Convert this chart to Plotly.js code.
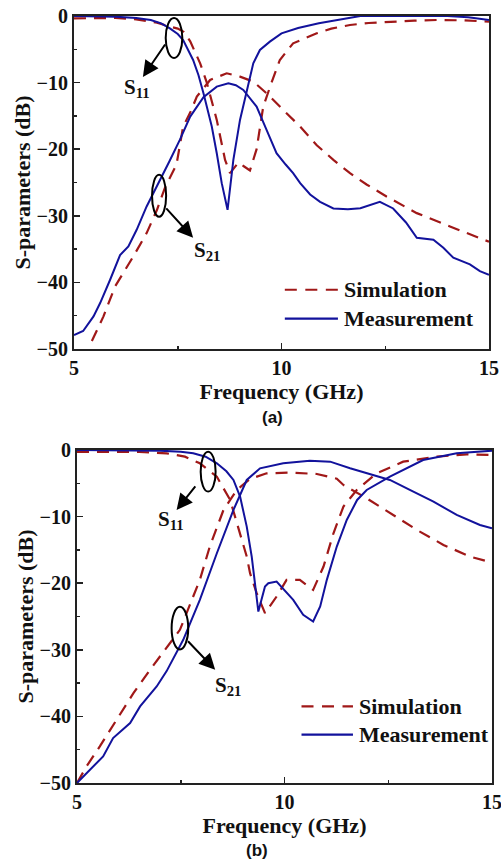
<!DOCTYPE html>
<html>
<head>
<meta charset="utf-8">
<script src="https://cdn.plot.ly/plotly-3.0.1.min.js"></script>
<style>
  html, body { margin: 0; padding: 0; background: #ffffff; }
  #chart { width: 501px; height: 862px; }
</style>
</head>
<body>
<div id="chart"></div>
<script>
// ---- Panel (a): S-parameters, frequency in GHz, magnitude in dB ----
const aS11SimF  = [5, 5.5, 6, 6.5, 7.0, 7.25, 7.5, 7.65, 7.8, 8.04, 8.2, 8.44, 8.64, 8.76, 8.96, 9.1, 9.24, 9.4, 9.56, 9.76, 9.96, 10.28, 10.6, 10.85, 11.2, 11.65, 12.1, 12.6, 13.2, 13.74, 14.4, 15];
const aS11SimDb = [-0.35, -0.3, -0.3, -0.5, -1.0, -1.5, -1.9, -2.4, -3.8, -7.1, -10.0, -15.6, -21.6, -23.6, -22.0, -22.6, -23.2, -20.0, -13.6, -10.0, -6.6, -4.1, -3.2, -2.6, -1.9, -1.35, -1.05, -0.85, -0.7, -0.6, -0.65, -0.85];

const aS11MeasF  = [5, 5.5, 6, 6.5, 6.85, 7.1, 7.31, 7.5, 7.63, 7.87, 8.0, 8.12, 8.25, 8.32, 8.44, 8.56, 8.7, 8.84, 9.0, 9.16, 9.32, 9.48, 9.72, 10.0, 10.4, 10.9, 11.4, 11.9, 12.5, 13.0, 13.5, 14.0, 14.5, 15];
const aS11MeasDb = [0, 0, -0.1, -0.3, -0.6, -1.1, -1.85, -2.7, -3.6, -6.6, -8.9, -11.6, -14.8, -16.6, -20.6, -25.1, -29.1, -21.6, -15.6, -11.1, -7.1, -5.1, -3.85, -2.6, -1.8, -1.1, -0.5, 0, 0, 0, 0, 0, -0.2, -0.6];

const aS21SimF  = [5.43, 5.71, 5.99, 6.2, 6.43, 6.75, 7.0, 7.19, 7.47, 7.63, 7.8, 7.96, 8.28, 8.68, 9.0, 9.32, 9.64, 10.04, 10.45, 10.85, 11.25, 11.65, 12.05, 12.53, 13.02, 13.26, 14.06, 15];
const aS21SimDb = [-48.8, -45.1, -40.6, -38.5, -36.1, -32.6, -29.1, -25.8, -22.3, -16.6, -14.5, -12.1, -9.6, -8.6, -9.1, -9.85, -11.6, -14.1, -16.6, -19.4, -21.6, -23.6, -25.3, -27.1, -28.85, -29.6, -31.6, -33.9];

const aS21MeasF  = [5, 5.22, 5.47, 5.63, 5.87, 6.11, 6.31, 6.51, 6.75, 7.0, 7.3, 7.55, 7.8, 8.12, 8.44, 8.72, 8.9, 9.08, 9.4, 9.64, 9.88, 10.1, 10.28, 10.45, 10.69, 10.93, 11.25, 11.6, 11.9, 12.37, 12.69, 13.0, 13.26, 13.66, 13.9, 14.14, 14.54, 14.78, 15];
const aS21MeasDb = [-47.9, -47.3, -45.1, -43.1, -39.6, -35.9, -34.6, -32.1, -28.6, -25.6, -21.8, -18.6, -15.1, -12.2, -10.6, -10.1, -10.4, -11.1, -13.6, -17.1, -20.6, -22.3, -23.6, -25.1, -26.8, -27.9, -28.9, -29.0, -28.85, -27.9, -28.9, -31.0, -33.3, -33.6, -34.8, -36.3, -37.3, -38.3, -38.85];

// ---- Panel (b) ----
const bS11SimF  = [5, 5.96, 6.5, 7.16, 7.6, 7.96, 8.37, 8.69, 8.93, 9.09, 9.17, 9.33, 9.53, 9.81, 10.05, 10.37, 10.69, 10.94, 11.18, 11.42, 11.74, 12.22, 12.86, 13.67, 14.39, 15];
const bS11SimDb = [-0.3, -0.25, -0.3, -0.5, -1.0, -2.0, -4.0, -7.5, -12.5, -16.0, -18.5, -21.5, -24.5, -22.0, -19.5, -19.5, -21.0, -17.5, -12.5, -8.5, -6.0, -3.5, -1.75, -1.0, -0.65, -0.75];

const bS11MeasF  = [5, 6, 7, 7.5, 7.8, 8.1, 8.37, 8.6, 8.77, 8.93, 9.09, 9.21, 9.3, 9.37, 9.53, 9.61, 9.81, 10.0, 10.21, 10.45, 10.69, 10.86, 11.02, 11.26, 11.5, 11.75, 11.98, 12.54, 13.0, 13.34, 14.15, 15];
const bS11MeasDb = [0, -0.05, -0.1, -0.25, -0.5, -1.0, -2.0, -3.2, -4.5, -7.0, -11.5, -16.0, -20.5, -24.25, -20.5, -20.0, -19.75, -21.0, -22.5, -24.75, -25.75, -23.5, -19.5, -14.5, -10.5, -7.5, -6.0, -4.0, -2.6, -1.5, -0.5, -0.1];

const bS21SimF  = [5, 5.23, 5.55, 5.96, 6.36, 6.76, 7.16, 7.48, 7.96, 8.2, 8.53, 8.85, 9.17, 9.57, 10.13, 10.78, 11.26, 11.42, 11.98, 12.54, 13.19, 13.83, 14.47, 15];
const bS21SimDb = [-50, -47.5, -44.5, -40.5, -36.5, -33.0, -29.75, -27.0, -19.5, -14.5, -9.0, -6.0, -4.35, -3.5, -3.4, -3.6, -4.3, -5.25, -7.25, -9.5, -12.0, -14.25, -16.0, -16.9];

const bS21MeasF  = [5, 5.39, 5.63, 5.87, 6.28, 6.52, 6.92, 7.16, 7.56, 7.96, 8.37, 8.77, 9.09, 9.41, 9.97, 10.61, 11.1, 11.58, 11.98, 12.54, 13.02, 13.59, 14.15, 14.71, 15];
const bS21MeasDb = [-50, -47.5, -46.0, -43.25, -41.0, -38.5, -35.5, -33.2, -28.5, -22.5, -15.5, -9.0, -4.5, -2.75, -2.0, -1.6, -1.75, -2.75, -3.5, -4.5, -6.0, -7.75, -9.75, -11.25, -11.75];

const xTicks = [5, 10, 15];
const seriesNames = ['Simulation', 'Measurement'];
const panelTags = ['(a)', '(b)'];

// ---- styling ----
const SERIF = 'Liberation Serif, Times New Roman, serif';
const SANS = 'Liberation Sans, Arial, sans-serif';
const RED = '#a01818';
const BLUE = '#12129c';
const simLine = { color: RED, width: 2.2, dash: '12px,8px' };
const measLine = { color: BLUE, width: 2 };

function trace(f, db, line, xa, ya, name) {
  return { x: f, y: db, type: 'scatter', mode: 'lines', line: line,
           xaxis: xa, yaxis: ya, name: name, showlegend: false, hoverinfo: 'x+y' };
}

const data = [
  trace(aS11SimF, aS11SimDb, simLine, 'x', 'y', seriesNames[0]),
  trace(aS21SimF, aS21SimDb, simLine, 'x', 'y', seriesNames[0]),
  trace(aS11MeasF, aS11MeasDb, measLine, 'x', 'y', seriesNames[1]),
  trace(aS21MeasF, aS21MeasDb, measLine, 'x', 'y', seriesNames[1]),
  trace(bS11SimF, bS11SimDb, simLine, 'x2', 'y2', seriesNames[0]),
  trace(bS21SimF, bS21SimDb, simLine, 'x2', 'y2', seriesNames[0]),
  trace(bS11MeasF, bS11MeasDb, measLine, 'x2', 'y2', seriesNames[1]),
  trace(bS21MeasF, bS21MeasDb, measLine, 'x2', 'y2', seriesNames[1])
];

const W = 501, H = 862;
const tickFont = { family: SERIF, size: 20, color: '#111', weight: 'bold' };
const titleFont = { family: SERIF, size: 22, color: '#111', weight: 'bold' };

function xAxis(left, right, anchor, standoff) {
  return {
    domain: [left / W, right / W], anchor: anchor, range: [5, 15],
    tickvals: xTicks, ticks: 'inside', ticklen: 6, tickwidth: 1.5, tickcolor: '#222',
    minor: { ticks: 'inside', ticklen: 3, tickwidth: 1.5, tickcolor: '#222', dtick: 2.5, showgrid: false },
    showline: true, mirror: true, linewidth: 2, linecolor: '#222',
    showgrid: false, zeroline: false, tickfont: tickFont, ticklabeloverflow: 'allow',
    title: { text: 'Frequency (GHz)', font: titleFont, standoff: standoff }
  };
}
function yAxis(top, bottom, anchor) {
  return {
    domain: [1 - bottom / H, 1 - top / H], anchor: anchor, range: [-50, 0],
    dtick: 10, tick0: 0, ticks: 'inside', ticklen: 6, tickwidth: 1.5, tickcolor: '#222',
    minor: { ticks: 'inside', ticklen: 3, tickwidth: 1.5, tickcolor: '#222', dtick: 5, showgrid: false },
    showline: true, mirror: true, linewidth: 2, linecolor: '#222',
    showgrid: false, zeroline: false, tickfont: tickFont, ticklabeloverflow: 'allow',
    title: { text: 'S-parameters (dB)', font: titleFont, standoff: 0 }
  };
}

// ellipse marker around a curve group, in axis units
function ellipse(xa, ya, cx, cy, rx, ry) {
  return { type: 'circle', xref: xa, yref: ya, x0: cx - rx, x1: cx + rx, y0: cy - ry, y1: cy + ry,
           line: { color: '#000', width: 2 }, fillcolor: 'rgba(0,0,0,0)' };
}
function seg(xa, ya, x0, x1, y, line) {
  return { type: 'line', xref: xa, yref: ya, x0: x0, x1: x1, y0: y, y1: y, line: line };
}
function arrow(xa, ya, tailX, tailY, tipX, tipY) {
  return { xref: xa, yref: ya, axref: xa, ayref: ya, x: tipX, y: tipY, ax: tailX, ay: tailY,
           text: '', showarrow: true, arrowhead: 2, arrowsize: 1.6, arrowwidth: 2, arrowcolor: '#000' };
}
function label(xa, ya, x, y, txt, opts) {
  return Object.assign({ xref: xa, yref: ya, x: x, y: y, text: txt, showarrow: false,
           font: { family: SERIF, size: 21, color: '#111', weight: 'bold' } }, opts || {});
}
const legendFont = { family: SERIF, size: 22, color: '#111', weight: 'bold' };
const legLineSim = { color: RED, width: 2.2, dash: '12px,8.5px' };
const legLineMeas = { color: BLUE, width: 2.2 };

const shapes = [
  ellipse('x', 'y', 7.41, -3.3, 0.2, 3.0),
  ellipse('x', 'y', 7.05, -27.0, 0.17, 3.15),
  ellipse('x2', 'y2', 8.16, -3.25, 0.18, 3.0),
  ellipse('x2', 'y2', 7.48, -26.75, 0.2, 3.2),
  seg('x', 'y', 10.08, 11.36, -41.1, legLineSim),
  seg('x', 'y', 10.08, 11.36, -45.45, legLineMeas),
  seg('x2', 'y2', 10.41, 11.65, -38.5, legLineSim),
  seg('x2', 'y2', 10.41, 11.65, -42.75, legLineMeas)
];

const annotations = [
  arrow('x', 'y', 7.22, -4.05, 6.66, -9.15),
  arrow('x', 'y', 7.19, -28.65, 7.87, -33.3),
  arrow('x2', 'y2', 7.88, -5.25, 7.40, -9.0),
  arrow('x2', 'y2', 7.64, -28.5, 8.33, -33.0),
  label('x', 'y', 6.51, -10.8, 'S<sub>11</sub>'),
  label('x', 'y', 8.2, -35.25, 'S<sub>21</sub>'),
  label('x2', 'y2', 7.27, -10.5, 'S<sub>11</sub>'),
  label('x2', 'y2', 8.64, -35.5, 'S<sub>21</sub>'),
  label('x', 'y', 11.46, -41.1, seriesNames[0], { xanchor: 'left', font: legendFont }),
  label('x', 'y', 11.46, -45.45, seriesNames[1], { xanchor: 'left', font: legendFont }),
  label('x2', 'y2', 11.75, -38.5, seriesNames[0], { xanchor: 'left', font: legendFont }),
  label('x2', 'y2', 11.75, -42.75, seriesNames[1], { xanchor: 'left', font: legendFont }),
  { xref: 'paper', yref: 'paper', x: 272 / W, y: 1 - 418 / H, xanchor: 'center', yanchor: 'middle',
    text: panelTags[0], showarrow: false,
    font: { family: SANS, size: 17, color: '#111', weight: 'bold' } },
  { xref: 'paper', yref: 'paper', x: 257 / W, y: 1 - 850 / H, xanchor: 'center', yanchor: 'middle',
    text: panelTags[1], showarrow: false,
    font: { family: SANS, size: 17, color: '#111', weight: 'bold' } }
];

const layout = {
  width: W, height: H,
  margin: { l: 0, r: 0, t: 0, b: 0, pad: 0 },
  paper_bgcolor: '#ffffff', plot_bgcolor: '#ffffff',
  showlegend: false,
  xaxis: xAxis(74, 489, 'y', 4),
  yaxis: yAxis(16, 349, 'x'),
  xaxis2: xAxis(77, 492, 'y2', 1),
  yaxis2: yAxis(450, 783, 'x2'),
  shapes: shapes,
  annotations: annotations
};

Plotly.newPlot('chart', data, layout, { displayModeBar: false, staticPlot: true });
</script>
</body>
</html>
